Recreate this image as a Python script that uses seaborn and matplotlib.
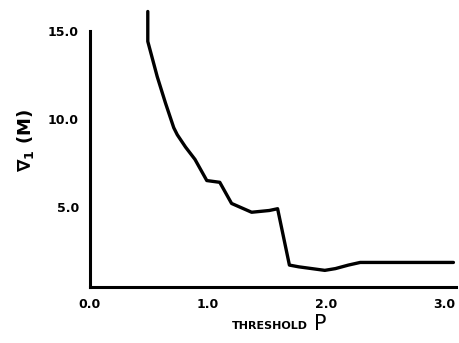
import numpy as np
import pandas as pd
import matplotlib
matplotlib.use("Agg")
import matplotlib.pyplot as plt
import seaborn as sns

# === Data ===
threshold = [0.49, 0.49, 0.57, 0.64, 0.71, 0.74, 0.81, 0.89, 0.99, 1.10,
             1.20, 1.37, 1.52, 1.59, 1.69, 1.77, 1.99, 2.08, 2.19, 2.29, 3.08]
sigma = [16.1, 14.4, 12.4, 10.9, 9.5, 9.1, 8.4, 7.7, 6.5, 6.4,
         5.2, 4.7, 4.8, 4.9, 1.7, 1.6, 1.4, 1.5, 1.7, 1.85, 1.85]

x_ticks = [0.0, 1.0, 2.0, 3.0]
x_tick_labels = ["0.0", "1.0", "2.0", "3.0"]
y_ticks = [5.0, 10.0, 15.0]
y_tick_labels = ["5.0", "10.0", "15.0"]

df = pd.DataFrame({"threshold": threshold, "sigma": sigma})

sns.set_style("white")
plt.rcParams["font.family"] = ["DejaVu Sans"]
plt.rcParams["mathtext.default"] = "bf"

fig = plt.figure(figsize=(4.59, 3.43), dpi=100)
ax = fig.add_axes([0.196, 0.163, 0.797, 0.747])

sns.lineplot(data=df, x="threshold", y="sigma", ax=ax, color="black",
             linewidth=2.4, sort=False, estimator=None, clip_on=False)

ax.set_xlim(0, 3.1)
ax.set_ylim(0.45, 15.0)
ax.set_xticks(x_ticks)
ax.set_xticklabels(x_tick_labels, fontsize=9, fontweight="bold", color="black")
ax.set_yticks(y_ticks)
ax.set_yticklabels(y_tick_labels, fontsize=9, fontweight="bold", color="black")
ax.tick_params(length=0, pad=8)

for side in ["top", "right"]:
    ax.spines[side].set_visible(False)
for side in ["left", "bottom"]:
    ax.spines[side].set_color("black")
    ax.spines[side].set_linewidth(2.2)

ax.set_xlabel("")
ax.set_ylabel("")
fig.text(25 / 459, 1 - 140 / 343, r"$\nabla_{1}$ (M)", fontsize=13, fontweight="bold",
         rotation=90, ha="center", va="center", color="black")
fig.text(0.67, 0.035, "THRESHOLD", fontsize=8, fontweight="bold", ha="right",
         va="bottom", color="black", stretch="expanded")
fig.text(0.685, 0.025, "P", fontsize=15, ha="left", va="bottom", color="black")

plt.savefig("out.png", dpi=100)
plt.close()
